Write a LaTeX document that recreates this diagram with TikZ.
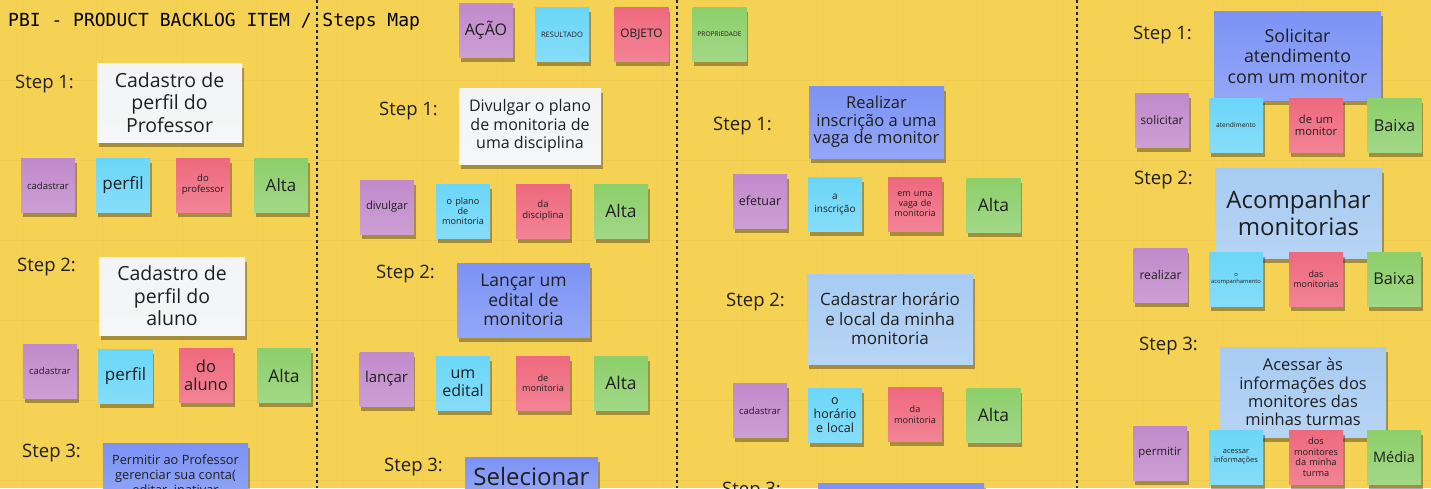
\documentclass[tikz,border=0pt]{standalone}
\usepackage{fontspec}
\setmainfont{Open Sans}
\newfontfamily\boardmono{DejaVu Sans Mono}
\usepackage{tikz}
\usetikzlibrary{shadows}
\definecolor{board}{HTML}{F5D154}
\definecolor{boardgrid}{HTML}{EFCC51}
\definecolor{acao}{HTML}{C18ACB}
\definecolor{resultado}{HTML}{6BD6F8}
\definecolor{objeto}{HTML}{EF697E}
\definecolor{propriedade}{HTML}{8DCF6B}
\definecolor{tarefa}{HTML}{7C93F5}
\definecolor{tarefaclara}{HTML}{A7CBF2}
\definecolor{papel}{HTML}{F3F4F5}
\newcommand{\fsz}[2]{\fontsize{#1}{#2}\selectfont}
\tikzset{
    x=1pt, y=-1pt, % one unit is one pixel of the board, y runs down
    every node/.style={inner sep=0pt, align=center, text=black!88},
    note/.style={top color=#1, bottom color=#1!82!white,
        drop shadow={shadow xshift=1.5pt, shadow yshift=-4.5pt, opacity=.32, fill=black}}, % paper with a shadow under it
    sticky/.style={note=#1, minimum width=54pt, minimum height=54pt, text width=52pt}, % the small square notes
    card/.style={note=#1}, % the bigger notes with the text of the step
    steplabel/.style={anchor=west, font=\fsz{18.5}{22}},
    separator/.style={line width=1.2pt, dash pattern=on 3pt off 3pt, black!85},
}

\begin{document}
\begin{tikzpicture}
    \useasboundingbox (0,0) rectangle (1431,488);
    \clip (0,0) rectangle (1431,488);
    \fill[board] (0,0) rectangle (1431,488);
    % faint grid of the board
    \foreach \gx in {22,102,...,1422} \draw[boardgrid] (\gx,0) -- (\gx,488);
    \foreach \gy in {80,160,...,480} \draw[boardgrid] (0,\gy) -- (1431,\gy);
    \foreach \sx in {317,677,1077} \draw[separator] (\sx,0) -- (\sx,488);

    \node[anchor=base west, font=\boardmono\fsz{18}{20}, text=black] (title) at (8,26) {PBI - PRODUCT BACKLOG ITEM / Steps Map};

    % legend
    \node[sticky=acao, font=\fsz{16}{18}] (legacao) at (486,30.5) {AÇÃO};
    \node[sticky=resultado, font=\fsz{7.5}{9}] (legresultado) at (562,34.5) {RESULTADO};
    \node[sticky=objeto, font=\fsz{11.8}{13}] (legobjeto) at (641.5,34.5) {OBJETO};
    \node[sticky=propriedade, font=\fsz{6.6}{8}] (legpropriedade) at (719.5,34.5) {PROPRIEDADE};

    % column 1
    \node[steplabel] (c1s1) at (15,84) {Step 1:};
    \node[card=papel, minimum width=145pt, minimum height=79pt, font=\fsz{19.5}{22.5}] (c1t1) at (169.5,102.5) {Cadastro de\\perfil do\\Professor};
    \node[sticky=acao, font=\fsz{9.5}{11}] (c1a1) at (48,185.5) {cadastrar};
    \node[sticky=resultado, font=\fsz{17}{19}] (c1r1) at (123,185) {perfil};
    \node[sticky=objeto, font=\fsz{9.5}{11}] (c1o1) at (203,185) {do\\professor};
    \node[sticky=propriedade, font=\fsz{17}{19}] (c1p1) at (281,185) {Alta};

    \node[steplabel] (c1s2) at (17,267) {Step 2:};
    \node[card=papel, minimum width=146pt, minimum height=78pt, font=\fsz{19.5}{22.5}] (c1t2) at (172,296) {Cadastro de\\perfil do\\aluno};
    \node[sticky=acao, font=\fsz{9.5}{11}] (c1a2) at (50,371) {cadastrar};
    \node[sticky=resultado, font=\fsz{17}{19}] (c1r2) at (125.5,376) {perfil};
    \node[sticky=objeto, font=\fsz{16.5}{18.5}] (c1o2) at (206,375.5) {do\\aluno};
    \node[sticky=propriedade, font=\fsz{17.5}{19}] (c1p2) at (284,375.5) {Alta};

    \node[steplabel] (c1s3) at (22,453) {Step 3:};
    \node[card=tarefa, anchor=north, minimum width=145pt, inner ysep=11pt, font=\fsz{12.8}{15}] (c1t3) at (175.5,443) {Permitir ao Professor\\gerenciar sua conta(\\editar, inativar};

    % column 2
    \node[steplabel] (c2s1) at (379,111) {Step 1:};
    \node[card=papel, minimum width=142pt, minimum height=76pt, font=\fsz{16}{18.5}] (c2t1) at (530,126) {Divulgar o plano\\de monitoria de\\uma disciplina};
    \node[sticky=acao, font=\fsz{11.2}{13}] (c2a1) at (387,207) {divulgar};
    \node[sticky=resultado, font=\fsz{9.1}{10}] (c2r1) at (463,211) {o plano\\de\\monitoria};
    \node[sticky=objeto, font=\fsz{9.5}{11}] (c2o1) at (543,211) {da\\disciplina};
    \node[sticky=propriedade, font=\fsz{17.5}{19}] (c2p1) at (621,211) {Alta};

    \node[steplabel] (c2s2) at (376,274) {Step 2:};
    \node[card=tarefa, minimum width=133pt, minimum height=74pt, font=\fsz{17.5}{19.5}] (c2t2) at (523.5,300) {Lançar um\\edital de\\monitoria};
    \node[sticky=acao, font=\fsz{15}{17}] (c2a2) at (386.5,379) {lançar};
    \node[sticky=resultado, font=\fsz{16}{18}] (c2r2) at (463,383) {um\\edital};
    \node[sticky=objeto, font=\fsz{9.1}{10.5}] (c2o2) at (543,383) {de\\monitoria};
    \node[sticky=propriedade, font=\fsz{17.5}{19}] (c2p2) at (621,383) {Alta};

    \node[steplabel] (c2s3) at (384,467) {Step 3:};
    \node[card=tarefa, anchor=north, minimum width=133pt, inner ysep=10pt, font=\fsz{24}{27}] (c2t3) at (531.5,457) {Selecionar};

    % column 3
    \node[steplabel] (c3s1) at (713,126) {Step 1:};
    \node[card=tarefa, minimum width=135pt, minimum height=72pt, font=\fsz{16.5}{17.5}] (c3t1) at (876.5,122) {Realizar\\inscrição a uma\\vaga de monitor};
    \node[sticky=acao, font=\fsz{12.5}{14}] (c3a1) at (760,201) {efetuar};
    \node[sticky=resultado, font=\fsz{10}{12.5}] (c3r1) at (835,204.5) {a\\inscrição};
    \node[sticky=objeto, font=\fsz{9}{10}] (c3o1) at (915,204.5) {em uma\\vaga de\\monitoria};
    \node[sticky=propriedade, font=\fsz{17.5}{19}] (c3p1) at (993.5,205) {Alta};

    \node[steplabel] (c3s2) at (726,302) {Step 2:};
    \node[card=tarefaclara, minimum width=166pt, minimum height=90pt, font=\fsz{17}{19.5}] (c3t2) at (890,319) {Cadastrar horário\\e local da minha\\monitoria};
    \node[sticky=acao, font=\fsz{9.5}{11}] (c3a2) at (760,410.5) {cadastrar};
    \node[sticky=resultado, font=\fsz{12.5}{14.2}] (c3r2) at (835,415) {o\\horário\\e local};
    \node[sticky=objeto, font=\fsz{9.1}{10.7}] (c3o2) at (915,414.5) {da\\monitoria};
    \node[sticky=propriedade, font=\fsz{17.5}{19}] (c3p2) at (993.5,415) {Alta};

    \node[steplabel] (c3s3) at (722,491) {Step 3:};
    \node[card=tarefa, anchor=north, minimum width=166pt, minimum height=40pt] (c3t3) at (901,483) {};

    % column 4
    \node[steplabel] (c4s1) at (1133,35) {Step 1:};
    \node[card=tarefa, minimum width=167pt, minimum height=89pt, font=\fsz{17.8}{20.5}] (c4t1) at (1297.5,56) {Solicitar\\atendimento\\com um monitor};
    \node[sticky=acao, font=\fsz{11.8}{13}] (c4a1) at (1162,120) {solicitar};
    \node[sticky=resultado, font=\fsz{6.6}{8}] (c4r1) at (1236,125.5) {atendimento};
    \node[sticky=objeto, font=\fsz{11.2}{12.5}] (c4o1) at (1316,125.5) {de um\\monitor};
    \node[sticky=propriedade, font=\fsz{16.3}{18}] (c4p1) at (1394.5,125.5) {Baixa};

    \node[steplabel] (c4s2) at (1134,180) {Step 2:};
    \node[card=tarefaclara, minimum width=167pt, minimum height=90pt, font=\fsz{24}{26.7}] (c4t2) at (1298.5,213) {Acompanhar\\monitorias};
    \node[sticky=acao, font=\fsz{12.2}{14}] (c4a2) at (1160.5,275) {realizar};
    \node[sticky=resultado, font=\fsz{5.8}{7}] (c4r2) at (1236,279) {o\\acompanhamento};
    \node[sticky=objeto, font=\fsz{9}{10.5}] (c4o2) at (1316,279) {das\\monitorias};
    \node[sticky=propriedade, font=\fsz{16.3}{18}] (c4p2) at (1394,279) {Baixa};

    \node[steplabel] (c4s3) at (1139,346) {Step 3:};
    \node[card=tarefaclara, minimum width=166pt, minimum height=90pt, font=\fsz{16.4}{18.3}] (c4t3) at (1303,392) {Acessar às\\informações dos\\monitores das\\minhas turmas};
    \node[sticky=acao, font=\fsz{11.4}{13}] (c4a3) at (1160,453) {permitir};
    \node[sticky=resultado, font=\fsz{7.5}{8.5}] (c4r3) at (1236,457) {acessar\\informações};
    \node[sticky=objeto, font=\fsz{9.2}{10.5}] (c4o3) at (1316,457) {dos\\monitores\\da minha\\turma};
    \node[sticky=propriedade, font=\fsz{14.5}{16}] (c4p3) at (1394,457) {Média};
\end{tikzpicture}
\end{document}
